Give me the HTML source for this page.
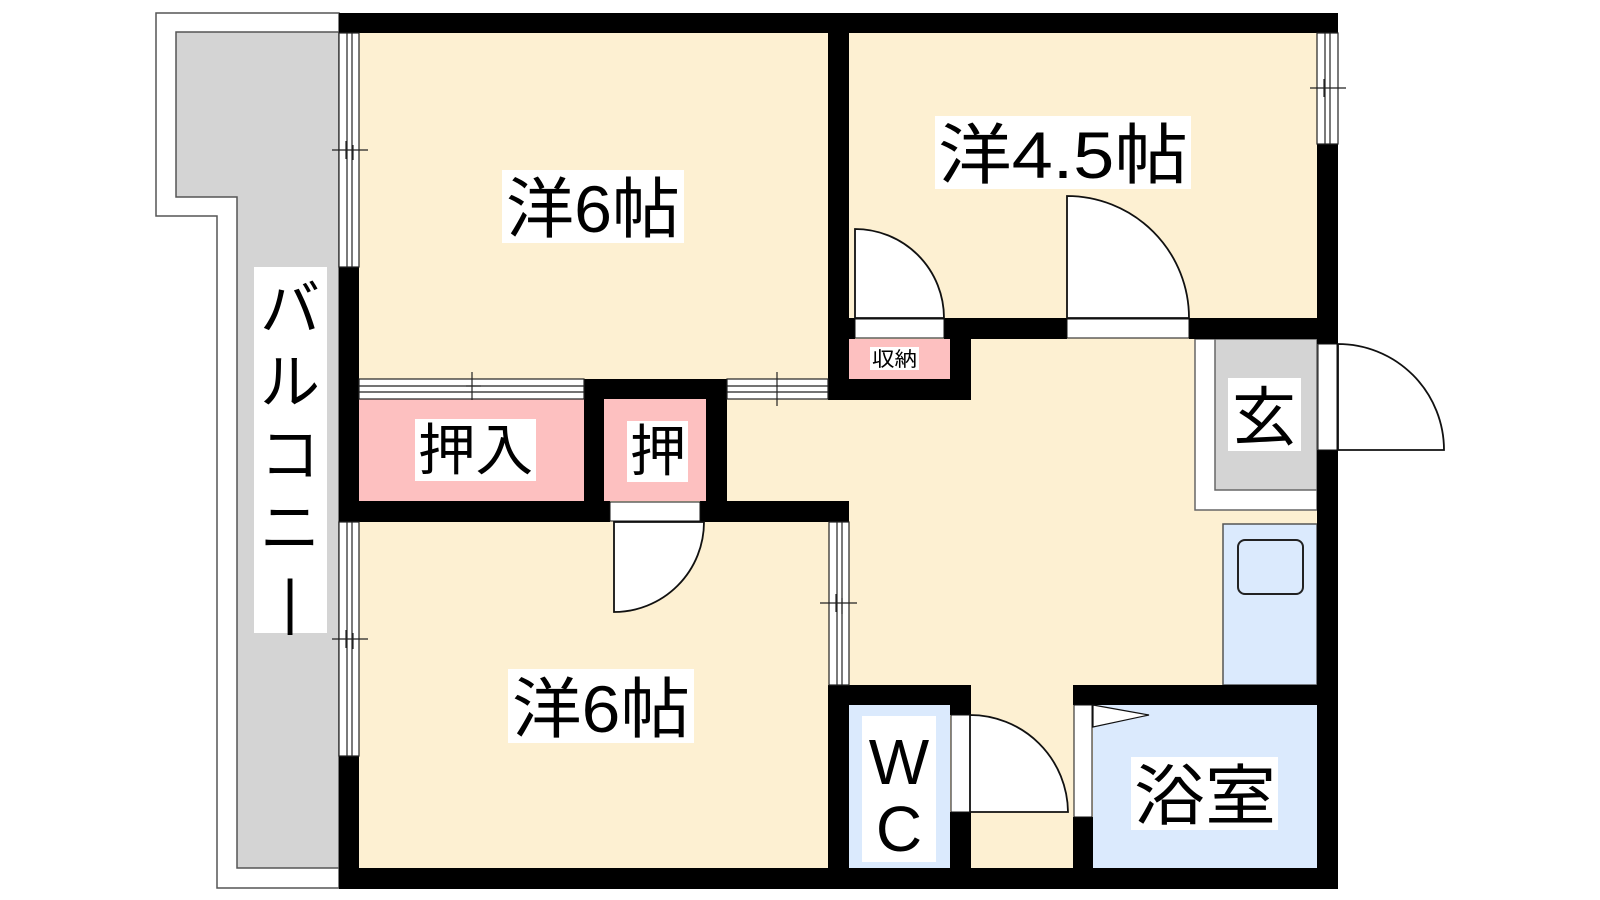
<!DOCTYPE html>
<html><head><meta charset="utf-8"><style>
html,body{margin:0;padding:0;background:#fff;}
svg{display:block;}
text{font-family:"Liberation Sans","Noto Sans CJK JP",sans-serif;fill:#000;}
</style></head><body>
<svg width="1600" height="900" viewBox="0 0 1600 900" xmlns="http://www.w3.org/2000/svg">
<!-- balcony -->
<path d="M156,13 H339 V888 H217 V216 H156 Z" fill="#fff" stroke="#555" stroke-width="1.5"/>
<path d="M176,32 H339 V868 H237 V197 H176 Z" fill="#d4d4d4" stroke="#555" stroke-width="1.5"/>
<!-- room fills -->
<rect x="359" y="33" width="958" height="835" fill="#fdf0d2"/>
<!-- closets pink -->
<rect x="359" y="399" width="225" height="102" fill="#fdc0c0"/>
<rect x="604" y="399" width="102" height="102" fill="#fdc0c0"/>
<rect x="849" y="339" width="101" height="40" fill="#fdc0c0"/>
<!-- genkan -->
<rect x="1195" y="339" width="122" height="171" fill="#fff" stroke="#666" stroke-width="1.5"/>
<rect x="1215" y="339" width="102" height="151" fill="#d4d4d4" stroke="#666" stroke-width="1.5"/>
<!-- kitchen -->
<rect x="1223" y="524" width="94" height="161" fill="#dbeafd" stroke="#555" stroke-width="1.5"/>
<rect x="1238" y="540" width="65" height="54" rx="7" fill="none" stroke="#222" stroke-width="2"/>
<!-- WC and bath fills -->
<rect x="849" y="705" width="101" height="163" fill="#dbeafd"/>
<rect x="1093" y="705" width="224" height="163" fill="#dbeafd"/>

<!-- walls -->
<g fill="#000">
<rect x="339" y="13" width="999" height="20"/>
<rect x="339" y="868" width="999" height="21"/>
<rect x="339" y="267" width="20" height="255"/>
<rect x="339" y="756" width="20" height="133"/>
<rect x="1317" y="144" width="21" height="200"/>
<rect x="1317" y="450" width="21" height="439"/>
<rect x="828" y="13" width="21" height="387"/>
<rect x="828" y="379" width="143" height="21"/>
<rect x="950" y="318" width="21" height="82"/>
<rect x="944" y="318" width="123" height="21"/>
<rect x="1189" y="318" width="149" height="21"/>
<rect x="849" y="318" width="6" height="21"/>
<rect x="584" y="379" width="143" height="20"/>
<rect x="584" y="379" width="20" height="143"/>
<rect x="706" y="379" width="21" height="143"/>
<rect x="339" y="501" width="271" height="21"/>
<rect x="700" y="501" width="149" height="21"/>
<rect x="828" y="685" width="143" height="20"/>
<rect x="828" y="685" width="21" height="204"/>
<rect x="950" y="685" width="21" height="30"/>
<rect x="950" y="812" width="21" height="77"/>
<rect x="1073" y="685" width="265" height="20"/>
<rect x="1073" y="817" width="20" height="72"/>
</g>

<!-- windows -->
<g fill="#fff" stroke="#222" stroke-width="1.2">
<rect x="339" y="33" width="20" height="234"/>
<line x1="347" y1="33" x2="347" y2="267"/><line x1="352" y1="33" x2="352" y2="267"/>
<line x1="332" y1="150" x2="368" y2="150"/><line x1="346" y1="141" x2="346" y2="159"/><line x1="353" y1="145" x2="353" y2="160"/>
<rect x="339" y="522" width="20" height="234"/>
<line x1="347" y1="522" x2="347" y2="756"/><line x1="352" y1="522" x2="352" y2="756"/>
<line x1="332" y1="639" x2="368" y2="639"/><line x1="346" y1="630" x2="346" y2="648"/><line x1="353" y1="633" x2="353" y2="649"/>
<rect x="359" y="379" width="225" height="20"/>
<line x1="359" y1="386" x2="584" y2="386"/><line x1="359" y1="392" x2="584" y2="392"/>
<line x1="472" y1="372" x2="472" y2="400"/><line x1="466" y1="386" x2="481" y2="386"/>
<rect x="727" y="379" width="101" height="20"/>
<line x1="727" y1="386" x2="828" y2="386"/><line x1="727" y1="392" x2="828" y2="392"/>
<line x1="777" y1="372" x2="777" y2="406"/>
<rect x="1317" y="33" width="21" height="111"/>
<line x1="1325" y1="33" x2="1325" y2="144"/><line x1="1330" y1="33" x2="1330" y2="144"/>
<line x1="1310" y1="88" x2="1346" y2="88"/><line x1="1324" y1="79" x2="1324" y2="97"/>
<rect x="829" y="522" width="20" height="163"/>
<line x1="837" y1="522" x2="837" y2="685"/><line x1="842" y1="522" x2="842" y2="685"/>
<line x1="820" y1="603" x2="857" y2="603"/><line x1="836" y1="594" x2="836" y2="612"/><line x1="842" y1="598" x2="842" y2="614"/>
</g>

<!-- doors -->
<g fill="#fff" stroke="#111" stroke-width="1.8">
<rect x="855" y="319" width="89" height="19" stroke-width="1"/>
<path d="M855,318 V229 A89,89 0 0 1 944,318 Z"/>
<rect x="1067" y="319" width="122" height="19" stroke-width="1"/>
<path d="M1067,318 V196 A122,122 0 0 1 1189,318 Z"/>
<rect x="1318" y="344" width="19" height="106" stroke-width="1"/>
<path d="M1338,450 V344 A106,106 0 0 1 1444,450 Z"/>
<rect x="610" y="502" width="90" height="19" stroke-width="1"/>
<path d="M614,522 V612 A90,90 0 0 0 704,522 Z" />
<rect x="951" y="715" width="19" height="97" stroke-width="1"/>
<path d="M970,812 V715 A98,98 0 0 1 1068,812 Z"/>
<rect x="1074" y="705" width="18" height="112" stroke-width="1"/>
<path d="M1093,705 L1149,715 L1093,727 Z" stroke-width="1.2"/>
</g>

<!-- labels -->
<g fill="#fff">
<rect x="502" y="170" width="182" height="73"/>
<rect x="935" y="116" width="256" height="73"/>
<rect x="508" y="669" width="186" height="74"/>
<rect x="415" y="419" width="121" height="62"/>
<rect x="627" y="421" width="61" height="61"/>
<rect x="870" y="347" width="49" height="23"/>
<rect x="1228" y="378" width="73" height="73"/>
<rect x="862" y="716" width="74" height="146"/>
<rect x="1131" y="757" width="147" height="73"/>
<rect x="254" y="267" width="73" height="366"/>
</g>
<text x="506" y="232" font-size="66" textLength="174" lengthAdjust="spacingAndGlyphs">洋6帖</text>
<text x="938" y="178" font-size="66" textLength="250" lengthAdjust="spacingAndGlyphs">洋4.5帖</text>
<text x="512" y="732" font-size="66" textLength="178" lengthAdjust="spacingAndGlyphs">洋6帖</text>
<text x="418" y="470" font-size="56" textLength="115" lengthAdjust="spacingAndGlyphs">押入</text>
<text x="630" y="471" font-size="56">押</text>
<text x="872" y="366" font-size="20" textLength="45" lengthAdjust="spacingAndGlyphs">収納</text>
<text x="1232" y="440" font-size="64">玄</text>
<text x="899" y="784" font-size="64" text-anchor="middle">W</text>
<text x="899" y="851" font-size="64" text-anchor="middle">C</text>
<text x="1134" y="819" font-size="66" textLength="142" lengthAdjust="spacingAndGlyphs">浴室</text>
<g font-size="60" text-anchor="middle">
<text x="290" y="330">バ</text>
<text x="290" y="403">ル</text>
<text x="290" y="476">コ</text>
<text x="290" y="549">ニ</text>
<text x="290" y="622" transform="rotate(0)">|</text>
</g>
</svg>
</body></html>
